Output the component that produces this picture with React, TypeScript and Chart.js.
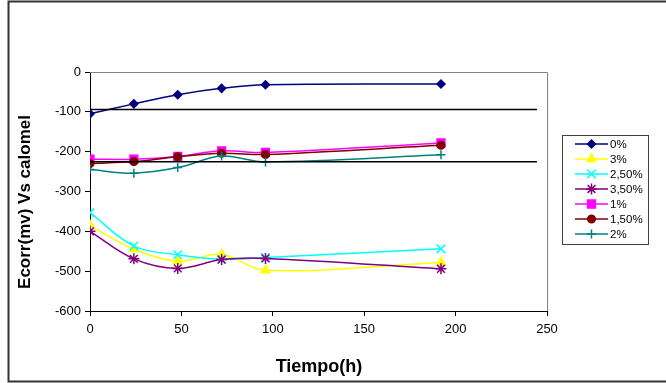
import React, { useEffect, useRef } from "react";
import { Chart, registerables } from "chart.js";
import { drawPoint } from "chart.js/helpers";

Chart.register(...registerables);

// Sampling times (hours)
const hours = [0, 24, 48, 72, 96, 192];

// Series names
const seriesNames = ["0%", "3%", "2,50%", "3,50%", "1%", "1,50%", "2%"];

// Corrosion potential (mV vs calomel) per concentration
const pot0 = [-105, -80, -57, -41, -32, -30];
const pot3 = [-385, -445, -475, -458, -498, -478];
const pot250 = [-353, -437, -459, -470, -466, -444];
const pot350 = [-400, -469, -493, -471, -468, -494];
const pot1 = [-219, -219, -212, -198, -202, -178];
const pot150 = [-230, -225, -213, -204, -207, -184];
const pot2 = [-245, -254, -240, -211, -226, -208];

// Horizontal reference levels (mV) and the hour where they stop
const refLevels = [-94, -225];
const refEndHour = 244.5;

// Axis ranges and steps
const xRange = [0, 250];
const xStep = 50;
const yRange = [-600, 0];
const yStep = 100;

const FONT = "'Liberation Sans', Arial, sans-serif";

type Style = { color: string; point: string; radius: number };
const styles: Style[] = [
  { color: "#000080", point: "rectRot", radius: 4 },
  { color: "#FFFF00", point: "triangle", radius: 5 },
  { color: "#00FFFF", point: "crossRot", radius: 6 },
  { color: "#800080", point: "star", radius: 5.5 },
  { color: "#FF00FF", point: "rect", radius: 5.5 },
  { color: "#800000", point: "circle", radius: 3.8 },
  { color: "#008080", point: "cross", radius: 4.5 },
];

const seriesValues = [pot0, pot3, pot250, pot350, pot1, pot150, pot2];

const decorations = {
  id: "decorations",
  beforeDatasetsDraw(chart: any) {
    const { ctx, chartArea: a } = chart;
    ctx.save();
    ctx.strokeStyle = "#808080";
    ctx.lineWidth = 1;
    ctx.beginPath();
    ctx.moveTo(a.left, a.top + 0.5);
    ctx.lineTo(a.right + 0.5, a.top + 0.5);
    ctx.lineTo(a.right + 0.5, a.bottom);
    ctx.stroke();
    ctx.restore();
  },
  afterDraw(chart: any) {
    const { ctx } = chart;
    ctx.save();

    // outer frame (left, top, bottom)
    ctx.strokeStyle = "#333333";
    ctx.lineWidth = 2;
    ctx.beginPath();
    ctx.moveTo(700, 1.5);
    ctx.lineTo(8.5, 1.5);
    ctx.lineTo(8.5, 381.5);
    ctx.lineTo(700, 381.5);
    ctx.stroke();

    // axis titles
    ctx.fillStyle = "#000";
    ctx.textAlign = "center";
    ctx.textBaseline = "middle";
    ctx.font = `bold 18px ${FONT}`;
    ctx.fillText("Tiempo(h)", 319, 367);
    ctx.save();
    ctx.translate(25, 202);
    ctx.rotate(-Math.PI / 2);
    ctx.font = `bold 17px ${FONT}`;
    ctx.fillText("Ecorr(mv) Vs calomel", 0, 0);
    ctx.restore();

    // legend
    const bx = 562.5, by = 135.5, bw = 86, bh = 109;
    ctx.fillStyle = "#fff";
    ctx.fillRect(bx, by, bw, bh);
    ctx.strokeStyle = "#404040";
    ctx.lineWidth = 1;
    ctx.strokeRect(bx, by, bw, bh);
    ctx.font = `11.5px ${FONT}`;
    ctx.textAlign = "left";
    ctx.textBaseline = "middle";
    seriesNames.forEach((name, i) => {
      const st = styles[i];
      const y = 144 + i * 15;
      ctx.strokeStyle = st.color;
      ctx.lineWidth = 1.5;
      ctx.beginPath();
      ctx.moveTo(575, y);
      ctx.lineTo(608, y);
      ctx.stroke();
      ctx.fillStyle = st.color;
      drawPoint(ctx, { radius: st.radius, pointStyle: st.point, rotation: 0, borderWidth: 1.5 } as any, 591.5, y);
      ctx.fillStyle = "#000";
      ctx.fillText(name, 610, y + 0.5);
    });
    ctx.restore();
  },
};

export default function App() {
  const ref = useRef<HTMLCanvasElement>(null);

  useEffect(() => {
    if (!ref.current) return;
    const series = seriesNames.map((name, i) => ({
      label: name,
      data: hours.map((h, k) => ({ x: h, y: seriesValues[i][k] })),
      borderColor: styles[i].color,
      backgroundColor: styles[i].color,
      pointBackgroundColor: styles[i].color,
      pointBorderColor: styles[i].color,
      pointStyle: styles[i].point,
      pointRadius: styles[i].radius,
      pointBorderWidth: 1.5,
      borderWidth: 1.5,
      tension: 0.35,
      order: 10 - i,
    }));
    const refs = refLevels.map((lvl) => ({
      label: "",
      data: [
        { x: 0, y: lvl },
        { x: refEndHour, y: lvl },
      ],
      borderColor: "#000",
      borderWidth: 1.5,
      pointRadius: 0,
      tension: 0,
      order: 0,
    }));

    const chart = new Chart(ref.current, {
      type: "line",
      data: { datasets: [...series, ...refs] as any },
      options: {
        animation: false,
        responsive: false,
        devicePixelRatio: 1,
        layout: { padding: { left: 0, top: 72, right: 119, bottom: 0 } },
        plugins: { legend: { display: false }, tooltip: { enabled: false }, title: { display: false } },
        scales: {
          x: {
            type: "linear",
            min: xRange[0],
            max: xRange[1],
            afterFit: (s: any) => {
              s.height = 72;
            },
            ticks: {
              stepSize: xStep,
              color: "#000",
              font: { family: FONT, size: 13 },
              padding: 6,
              maxRotation: 0,
              callback: (v: any) => String(v),
            },
            grid: { display: true, drawOnChartArea: false, drawTicks: true, tickLength: 5, color: "#000" },
            border: { display: true, color: "#000", width: 1 },
          },
          y: {
            type: "linear",
            min: yRange[0],
            max: yRange[1],
            afterFit: (s: any) => {
              s.width = 90;
            },
            ticks: {
              stepSize: yStep,
              color: "#000",
              font: { family: FONT, size: 13 },
              padding: 4,
              callback: (v: any) => String(v),
            },
            grid: { display: true, drawOnChartArea: false, drawTicks: true, tickLength: 5, color: "#000" },
            border: { display: true, color: "#000", width: 1 },
          },
        },
      },
      plugins: [decorations],
    });
    return () => chart.destroy();
  }, []);

  return (
    <div style={{ position: "fixed", left: 0, top: 0, width: 666, height: 383, background: "#fff" }}>
      <canvas ref={ref} width={666} height={383} style={{ display: "block" }} />
    </div>
  );
}
